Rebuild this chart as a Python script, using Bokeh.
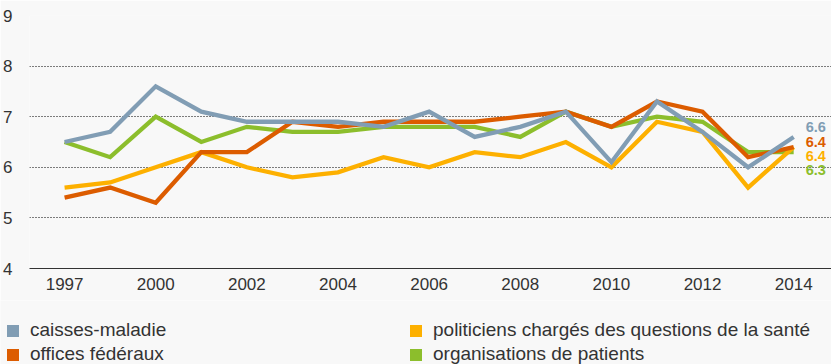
from bokeh.plotting import figure
from bokeh.layouts import column
from bokeh.models import Range1d, FixedTicker, Legend, LegendItem, ColumnDataSource
from bokeh.core.properties import value
from bokeh.embed import file_html
from bokeh.resources import INLINE

years = ["1997", "1998", "2000", "2001", "2002", "2003", "2004", "2005", "2006",
         "2007", "2008", "2009", "2010", "2011", "2012", "2013", "2014"]
shown_years = ["1997", "2000", "2002", "2004", "2006", "2008", "2010", "2012", "2014"]
y_ticks = [4, 5, 6, 7, 8, 9]

names = ["caisses-maladie", "offices fédéraux",
         "politiciens chargés des questions de la santé", "organisations de patients"]
caisses = [6.5, 6.7, 7.6, 7.1, 6.9, 6.9, 6.9, 6.8, 7.1, 6.6, 6.8, 7.1, 6.1, 7.3, 6.7, 6.0, 6.6]
offices = [5.4, 5.6, 5.3, 6.3, 6.3, 6.9, 6.8, 6.9, 6.9, 6.9, 7.0, 7.1, 6.8, 7.3, 7.1, 6.2, 6.4]
politiciens = [5.6, 5.7, 6.0, 6.3, 6.0, 5.8, 5.9, 6.2, 6.0, 6.3, 6.2, 6.5, 6.0, 6.9, 6.7, 5.6, 6.4]
patients = [6.5, 6.2, 7.0, 6.5, 6.8, 6.7, 6.7, 6.8, 6.8, 6.8, 6.6, 7.1, 6.8, 7.0, 6.9, 6.3, 6.3]
end_labels = ["6.6", "6.4", "6.4", "6.3"]

colors = ["#819db4", "#dc5c00", "#fdb000", "#8cbe2c"]
series = [caisses, offices, politiciens, patients]

FONT = "Liberation Sans"
TXT = "#333333"
BG = "#f8f8f8"

xs = list(range(len(years)))

p = figure(width=831, height=300, output_backend="svg", toolbar_location=None,
           x_range=Range1d(-0.77, 16.83), y_range=Range1d(4, 9),
           min_border_left=29, min_border_right=0, min_border_top=15, min_border_bottom=32,
           background_fill_color=BG, border_fill_color=BG, outline_line_color=None,
           frame_align=False)

# lines (drawn bottom to top: patients, politiciens, offices, caisses)
for idx in [3, 2, 1, 0]:
    p.line(xs, series[idx], line_color=colors[idx], line_width=4.3, line_join="miter")

# end labels
last_vals = [s[-1] for s in series]
top_val = max(last_vals)
lab_src = ColumnDataSource(dict(x=[xs[-1]] * 4, y=[top_val] * 4, t=end_labels, c=colors,
                                off=[-9.5 + 14.2 * i for i in range(4)]))
p.text(x="x", y="y", text="t", text_color="c", y_offset="off", x_offset=12,
       text_font=value(FONT), text_font_size="14.5px", text_font_style="bold",
       text_baseline="middle", source=lab_src)

# axes
p.xaxis.ticker = FixedTicker(ticks=[years.index(y) for y in shown_years])
p.xaxis.major_label_overrides = {years.index(y): y for y in shown_years}
p.xaxis.axis_line_color = "#333333"
p.xaxis.axis_line_width = 1
p.xaxis.major_tick_line_color = None
p.xaxis.minor_tick_line_color = None
p.xaxis.major_label_standoff = 3
p.xaxis.major_label_text_font = FONT
p.xaxis.major_label_text_font_size = "17px"
p.xaxis.major_label_text_color = TXT

p.yaxis.ticker = FixedTicker(ticks=y_ticks)
p.yaxis.axis_line_color = None
p.yaxis.major_tick_line_color = None
p.yaxis.minor_tick_line_color = None
p.yaxis.major_label_standoff = 11
p.yaxis.major_label_text_font = FONT
p.yaxis.major_label_text_font_size = "17px"
p.yaxis.major_label_text_color = TXT

p.xgrid.grid_line_color = None
p.ygrid.ticker = FixedTicker(ticks=y_ticks[1:])
p.ygrid.grid_line_color = "#000000"
p.ygrid.grid_line_width = 1
p.ygrid.grid_line_dash = "1 2"

# legend in its own strip below the chart
q = figure(width=831, height=64, output_backend="svg", toolbar_location=None,
           x_range=Range1d(0, 1), y_range=Range1d(0, 1),
           x_axis_location=None, y_axis_location=None,
           min_border_left=0, min_border_right=0, min_border_top=0, min_border_bottom=0,
           background_fill_color=BG, border_fill_color=BG, outline_line_color=None,
           frame_align=False)
q.xgrid.visible = False
q.ygrid.visible = False
nan = float("nan")
items = []
for i, name in enumerate(names):
    r = q.quad(left=[nan], right=[nan], top=[nan], bottom=[nan],
               fill_color=colors[i], line_color=None)
    items.append(LegendItem(label=name, renderers=[r], index=0))
legend = Legend(items=items, location=(5, -1), ncols=2, orientation="vertical",
                glyph_width=15, glyph_height=15, label_standoff=10, spacing=2,
                padding=0, margin=0, background_fill_alpha=0, border_line_color=None,
                label_text_font=FONT, label_text_font_size="19px", label_text_color=TXT,
                label_height=12, label_width=376)
q.add_layout(legend, "center")

layout = column(p, q, spacing=0)
open("out.html", "w").write(file_html(layout, INLINE))
